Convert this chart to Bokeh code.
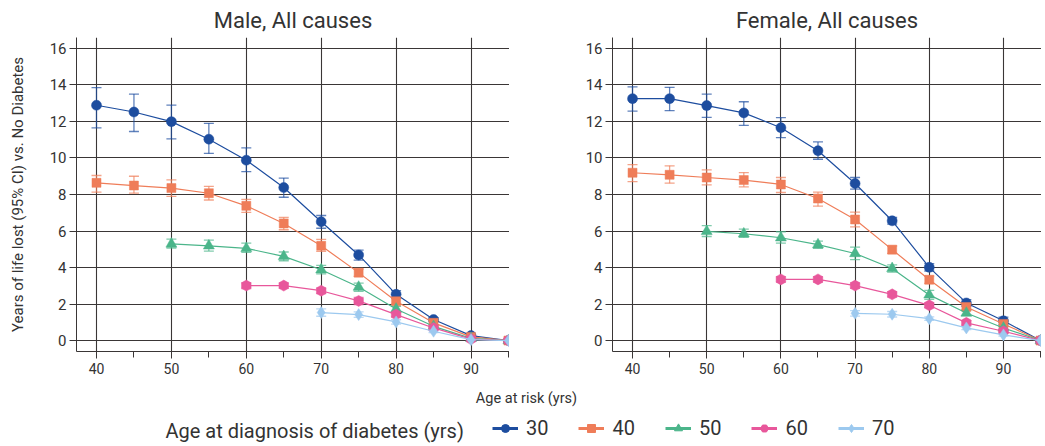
from bokeh.plotting import figure
from bokeh.layouts import column, row
from bokeh.models import (ColumnDataSource, Whisker, TeeHead, FixedTicker, Range1d,
                          Label, Legend, LegendItem)
from bokeh.embed import file_html
from bokeh.resources import INLINE

FONT = "Roboto"

ages = [40, 45, 50, 55, 60, 65, 70, 75, 80, 85, 90, 95]
diag_ages = ["30", "40", "50", "60", "70"]
colors = ["#1d4d9f", "#ef7d59", "#4bb58a", "#e8579b", "#9cc9ef"]
markers = ["circle", "square", "triangle", "hex", "diamond"]
marker_sizes = [10, 9, 11, 11, 12]
marker_angles = [0, 0, 0, 0.5236, 0]

# Male, All causes
male_30 = [12.89, 12.52, 11.99, 11.03, 9.88, 8.38, 6.51, 4.69, 2.53, 1.15, 0.27, 0.0]
male_30_lo = [11.65, 11.45, 11.05, 10.25, 9.25, 7.85, 6.15, 4.4, 2.33, 1.02, 0.2, -0.03]
male_30_hi = [13.85, 13.5, 12.9, 11.9, 10.55, 8.9, 6.85, 4.95, 2.73, 1.26, 0.33, 0.03]
male_40 = [8.64, 8.49, 8.35, 8.07, 7.38, 6.41, 5.19, 3.72, 2.15, 0.97, 0.2, 0.0]
male_40_lo = [8.13, 8.07, 7.9, 7.7, 7.02, 6.07, 4.88, 3.52, 2.0, 0.87, 0.14, -0.03]
male_40_hi = [9.04, 9.0, 8.8, 8.44, 7.73, 6.74, 5.54, 3.92, 2.3, 1.07, 0.26, 0.03]
male_50 = [5.29, 5.19, 5.05, 4.61, 3.88, 2.93, 1.73, 0.78, 0.12, 0.0]
male_50_lo = [5.07, 4.9, 4.83, 4.37, 3.65, 2.7, 1.58, 0.7, 0.08, -0.03]
male_50_hi = [5.56, 5.5, 5.34, 4.85, 4.12, 3.15, 1.88, 0.86, 0.16, 0.03]
male_60 = [3.01, 3.01, 2.73, 2.17, 1.42, 0.69, 0.08, 0.0]
male_60_lo = [2.85, 2.86, 2.57, 1.97, 1.3, 0.6, 0.04, -0.03]
male_60_hi = [3.17, 3.16, 2.89, 2.37, 1.54, 0.78, 0.12, 0.03]
male_70 = [1.53, 1.42, 1.02, 0.51, 0.05, 0.0]
male_70_lo = [1.33, 1.27, 0.9, 0.44, 0.02, -0.03]
male_70_hi = [1.73, 1.57, 1.14, 0.58, 0.08, 0.03]

# Female, All causes
female_30 = [13.25, 13.25, 12.87, 12.47, 11.66, 10.4, 8.6, 6.56, 4.01, 2.06, 1.08, 0.0]
female_30_lo = [12.57, 12.59, 12.23, 11.79, 11.12, 9.93, 8.29, 6.38, 3.81, 1.88, 0.88, -0.03]
female_30_hi = [13.9, 13.87, 13.5, 13.08, 12.21, 10.88, 8.93, 6.74, 4.21, 2.24, 1.28, 0.03]
female_40 = [9.19, 9.08, 8.93, 8.79, 8.55, 7.78, 6.63, 4.98, 3.33, 1.84, 0.91, 0.0]
female_40_lo = [8.71, 8.62, 8.53, 8.42, 8.11, 7.36, 6.23, 4.78, 3.13, 1.69, 0.78, -0.03]
female_40_hi = [9.64, 9.57, 9.35, 9.2, 8.93, 8.13, 7.04, 5.18, 3.53, 1.99, 1.04, 0.03]
female_50 = [5.98, 5.85, 5.63, 5.25, 4.77, 3.95, 2.5, 1.51, 0.69, 0.0]
female_50_lo = [5.7, 5.65, 5.34, 5.05, 4.43, 3.75, 2.25, 1.36, 0.58, -0.03]
female_50_hi = [6.3, 6.1, 5.96, 5.45, 5.12, 4.15, 2.75, 1.66, 0.8, 0.03]
female_60 = [3.35, 3.35, 3.01, 2.53, 1.93, 0.97, 0.51, 0.0]
female_60_lo = [3.2, 3.2, 2.86, 2.38, 1.8, 0.85, 0.42, -0.03]
female_60_hi = [3.5, 3.5, 3.16, 2.68, 2.06, 1.09, 0.6, 0.03]
female_70 = [1.49, 1.44, 1.2, 0.69, 0.31, 0.0]
female_70_lo = [1.34, 1.29, 1.1, 0.6, 0.24, -0.03]
female_70_hi = [1.64, 1.59, 1.3, 0.78, 0.38, 0.03]

male = [(male_30, male_30_lo, male_30_hi), (male_40, male_40_lo, male_40_hi),
        (male_50, male_50_lo, male_50_hi), (male_60, male_60_lo, male_60_hi),
        (male_70, male_70_lo, male_70_hi)]
female = [(female_30, female_30_lo, female_30_hi), (female_40, female_40_lo, female_40_hi),
          (female_50, female_50_lo, female_50_hi), (female_60, female_60_lo, female_60_hi),
          (female_70, female_70_lo, female_70_hi)]

y_ticks = list(range(0, 17, 2))
x_major = [40, 50, 60, 70, 80, 90]
x_minor = [45, 55, 65, 75, 85, 95]
GRID = "#3a3636"
TEXT = "#333333"


def make_panel(title, series, x_start, x_end, frame_w, border_left, ylabel):
    p = figure(frame_width=frame_w, frame_height=314, output_backend="svg",
               toolbar_location=None, x_range=Range1d(x_start, x_end),
               y_range=Range1d(-0.6, 16.6), min_border_left=border_left,
               min_border_right=0, min_border_top=37, min_border_bottom=30)
    p.title.text = title
    p.title.align = "center"
    p.title.text_font = FONT
    p.title.text_font_size = "22px"
    p.title.text_font_style = "normal"
    p.title.text_color = TEXT
    p.title.standoff = 9
    p.outline_line_color = None
    p.background_fill_color = "white"
    p.border_fill_color = "white"

    p.xaxis.ticker = FixedTicker(ticks=x_major, minor_ticks=x_minor)
    p.yaxis.ticker = FixedTicker(ticks=y_ticks, minor_ticks=[])
    for ax in (p.xaxis[0], p.yaxis[0]):
        ax.axis_line_color = GRID
        ax.major_tick_line_color = GRID
        ax.minor_tick_line_color = GRID
        ax.major_tick_in = 0
        ax.major_tick_out = 7
        ax.minor_tick_in = 0
        ax.minor_tick_out = 6
        ax.major_label_text_font = FONT
        ax.major_label_text_color = TEXT
    p.xaxis.major_label_text_font_size = "14px"
    p.yaxis.major_label_text_font_size = "15px"
    p.xaxis.major_label_standoff = 4
    p.yaxis.major_label_standoff = 3
    if ylabel:
        p.yaxis.axis_label = ylabel
        p.yaxis.axis_label_text_font = FONT
        p.yaxis.axis_label_text_font_size = "15px"
        p.yaxis.axis_label_text_font_style = "normal"
        p.yaxis.axis_label_text_color = TEXT
        p.yaxis.axis_label_standoff = 20

    p.xgrid.ticker = FixedTicker(ticks=x_major)
    p.ygrid.ticker = FixedTicker(ticks=y_ticks)
    p.xgrid.grid_line_color = GRID
    p.ygrid.grid_line_color = GRID
    p.xgrid.grid_line_width = 1.1
    p.ygrid.grid_line_width = 1.1

    for (vals, lo, hi), col, mk, sz, ang in zip(series, colors, markers, marker_sizes,
                                                marker_angles):
        xs = ages[len(ages) - len(vals):]
        src = ColumnDataSource(dict(x=xs, y=vals, lo=lo, hi=hi))
        w = Whisker(source=src, base="x", upper="hi", lower="lo", dimension="height",
                    line_color=col, line_alpha=0.7, line_width=1.3,
                    upper_head=TeeHead(size=10, line_color=col, line_alpha=0.7, line_width=1.3),
                    lower_head=TeeHead(size=10, line_color=col, line_alpha=0.7, line_width=1.3))
        p.add_layout(w)
        p.line("x", "y", source=src, line_color=col, line_width=1.2)
        p.scatter("x", "y", source=src, marker=mk, size=sz, angle=ang, fill_color=col,
                  line_color=col, line_width=0.5)
    return p


p1 = make_panel("Male, All causes", male, 37.33, 95.14, 433, 76,
                "Years of life lost (95% CI) vs. No Diabetes")
p2 = make_panel("Female, All causes", female, 37.30, 95.13, 429, 103, None)

# bottom strip: shared x-axis title and legend
p3 = figure(width=1041, height=65, output_backend="svg", toolbar_location=None,
            x_range=Range1d(0, 1), y_range=Range1d(0, 1), min_border=0)
p3.axis.visible = False
p3.grid.visible = False
p3.outline_line_color = None
p3.add_layout(Label(x=526, y=48, x_units="screen", y_units="screen",
                    text="Age at risk (yrs)", text_font=FONT, text_font_size="14.5px",
                    text_align="center", text_baseline="middle", text_color=TEXT))
p3.add_layout(Label(x=165, y=16, x_units="screen", y_units="screen",
                    text="Age at diagnosis of diabetes (yrs)", text_font=FONT,
                    text_font_size="20px", text_align="left", text_baseline="middle",
                    text_color=TEXT))
# legend proxies: a single point kept outside the visible strip range
proxy = ColumnDataSource(dict(x=[-5], y=[-5]))
items = []
for lab, col, mk, sz, ang in zip(diag_ages, colors, markers, marker_sizes, marker_angles):
    lr = p3.line("x", "y", source=proxy, line_color=col, line_width=3)
    sr = p3.scatter("x", "y", source=proxy, marker=mk, size=sz + 3, angle=ang,
                    fill_color=col, line_color=col)
    items.append(LegendItem(label=lab, renderers=[lr, sr]))
leg = Legend(items=items, orientation="horizontal", location=(492, 6),
             glyph_width=26, glyph_height=20, label_standoff=8, spacing=30,
             padding=0, margin=0, border_line_color=None, background_fill_alpha=0,
             label_text_font=FONT, label_text_font_size="20px",
             label_text_color=TEXT, label_text_baseline="middle")
p3.add_layout(leg)

layout = column(row(p1, p2), p3)
open("out.html", "w").write(file_html(layout, INLINE))
